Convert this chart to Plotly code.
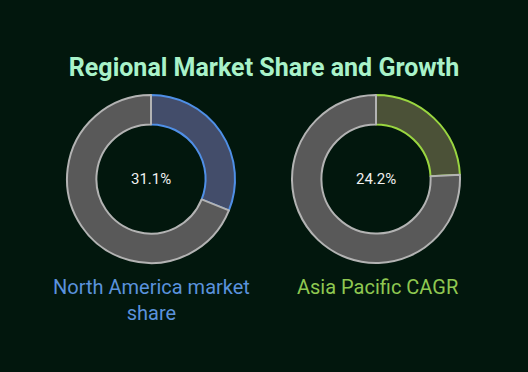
import plotly.graph_objects as go

regions = ["North America market share", "Asia Pacific CAGR"]
values = [31.1, 24.2]
center_labels = ["31.1%", "24.2%"]
accent = ["#4f8fe6", "#9ad640"]
fills = ["#434d6a", "#4b5137"]
label_text = ["North America market<br>share", "Asia Pacific CAGR"]
label_colors = ["#5a92dc", "#8fc851"]

bg = "#02170d"
domains_x = [[67/528, 235/528], [292/528, 460/528]]
domain_y = [1-263/372, 1-95/372]

fig = go.Figure()
for i in range(2):
    fig.add_trace(go.Pie(
        values=[values[i], 100-values[i]],
        labels=[regions[i], "Other"],
        hole=0.65,
        sort=False,
        direction="clockwise",
        rotation=0,
        textinfo="none",
        hoverinfo="label+value",
        marker=dict(colors=[fills[i], "#595959"],
                    line=dict(color=[accent[i], "#b3b3b3"], width=2)),
        domain=dict(x=domains_x[i], y=domain_y),
        showlegend=False,
    ))

annotations = []
for i in range(2):
    cx = (domains_x[i][0]+domains_x[i][1])/2
    cy = (domain_y[0]+domain_y[1])/2
    annotations.append(dict(x=cx, y=cy, xref="paper", yref="paper",
                            xanchor="center", yanchor="middle",
                            text=center_labels[i], showarrow=False,
                            font=dict(family="Roboto", size=15, color="#f0f0f0")))
    annotations.append(dict(x=cx + (0.002 if i else 0), y=1-273/372, xref="paper", yref="paper",
                            xanchor="center", yanchor="top",
                            text=label_text[i], showarrow=False,
                            font=dict(family="Roboto", size=20, color=label_colors[i])))

fig.update_layout(
    width=528, height=372,
    margin=dict(l=0, r=0, t=0, b=0),
    paper_bgcolor=bg, plot_bgcolor=bg,
    title=dict(text="<b>Regional Market Share and Growth</b>", x=0.5, xanchor="center",
               y=1-67/372, yanchor="middle",
               font=dict(family="Roboto", size=25, color="#a9f2c9")),
    annotations=annotations,
)
fig.write_html("out.html", config={"displayModeBar": False},
               post_script="document.body.style.margin='0';")
